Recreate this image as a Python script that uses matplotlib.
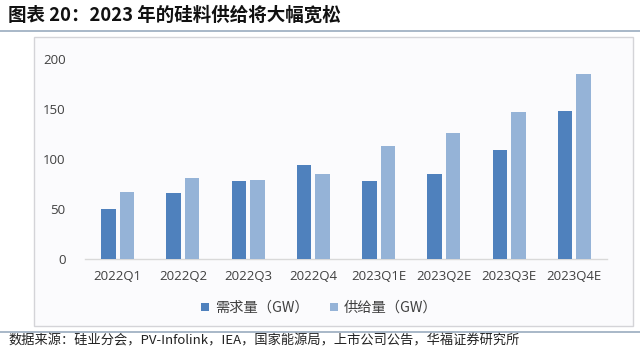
import numpy as np
import matplotlib.pyplot as plt
from matplotlib.patches import Rectangle
from matplotlib.lines import Line2D

plt.rcParams['font.family'] = ['Noto Sans CJK SC', 'DejaVu Sans']

# data
quarters = ['2022Q1', '2022Q2', '2022Q3', '2022Q4',
            '2023Q1E', '2023Q2E', '2023Q3E', '2023Q4E']
demand = [50, 66, 78, 94, 78, 85, 109, 148]
supply = [67, 81, 79, 85, 113, 126, 147, 185]
series_names = ['需求量（GW）', '供给量（GW）']
y_ticks = [0, 50, 100, 150, 200]

title = '图表 20：2023 年的硅料供给将大幅宽松'
source = '数据来源：硅业分会，PV-Infolink，IEA，国家能源局，上市公司公告，华福证券研究所'

c_demand = '#4F81BD'
c_supply = '#95B3D7'

W, H = 640, 356
fig = plt.figure(figsize=(W / 100, H / 100), dpi=100)
fig.patch.set_facecolor('white')

def fx(px):
    return px / W

def fy(py):
    return 1 - py / H

# title and separators
fig.text(fx(8), fy(15), title, fontsize=13.3, fontweight='bold',
         color='#111111', va='center', ha='left')
fig.add_artist(Line2D([0, 1], [fy(31), fy(31)], color='#9aacbf', lw=1.2))
fig.add_artist(Line2D([0, 1], [fy(331.5), fy(331.5)], color='#9aacbf', lw=1.2))
fig.text(fx(8), fy(341), source, fontsize=9.5, color='#222222',
         va='center', ha='left')

# chart frame
fig.add_artist(Rectangle((fx(33.5), fy(326)), fx(633) - fx(33.5), fy(37.3) - fy(326),
                         transform=fig.transFigure, facecolor='#fbfbfd',
                         edgecolor='#d4d4d8', lw=1.0, zorder=0))

ax = fig.add_axes([fx(85), fy(259.3), fx(607) - fx(85), fy(58.7) - fy(259.3)])
ax.patch.set_alpha(0)

x = np.arange(len(quarters))
bw = 0.222
off = 0.141
ax.bar(x - off, demand, width=bw, color=c_demand, label=series_names[0], zorder=3)
ax.bar(x + off, supply, width=bw, color=c_supply, label=series_names[1], zorder=3)

ax.set_xlim(-0.5, len(quarters) - 0.5)
ax.set_ylim(0, 200)
ax.set_yticks(y_ticks)
ax.set_yticklabels([str(v) for v in y_ticks], family='Open Sans', fontsize=9.5,
                   color='#404040')
ax.set_xticks(x)
ax.set_xticklabels(quarters, family='Open Sans', fontsize=9.5, color='#404040')
ax.tick_params(axis='both', length=0)
ax.tick_params(axis='y', pad=14)
ax.tick_params(axis='x', pad=8)
for s in ['top', 'right', 'left']:
    ax.spines[s].set_visible(False)
ax.spines['bottom'].set_color('#d9d9d9')
ax.spines['bottom'].set_linewidth(1.0)

leg = fig.legend(loc='center', bbox_to_anchor=(fx(319), fy(308)), ncol=2,
                 frameon=False, fontsize=10.3, handlelength=0.55, handleheight=0.55,
                 handletextpad=0.4, columnspacing=1.5)
for t in leg.get_texts():
    t.set_color('#404040')

fig.savefig('out.png', dpi=100, facecolor='white')
